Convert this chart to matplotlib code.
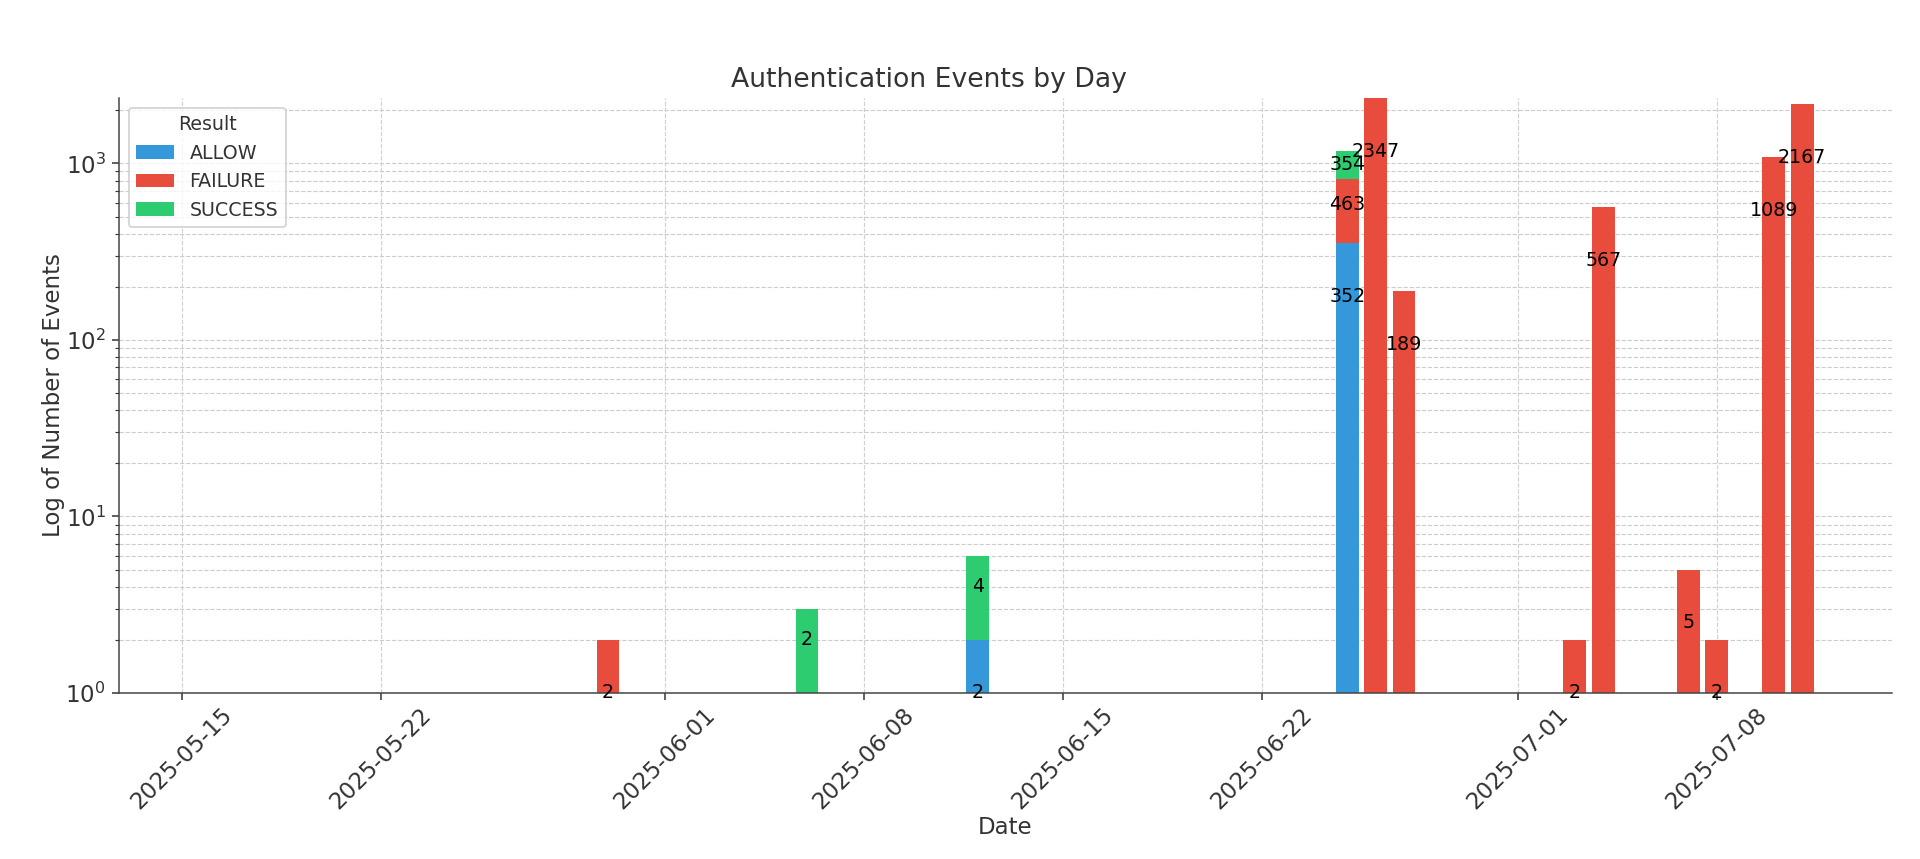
import numpy as np
import matplotlib
matplotlib.use("Agg")
import matplotlib.pyplot as plt
import matplotlib.dates as mdates
from datetime import datetime, timedelta

# ---- data -------------------------------------------------------------------
DATES = ["2025-05-30", "2025-06-06", "2025-06-12", "2025-06-25", "2025-06-26", "2025-06-27",
         "2025-07-03", "2025-07-04", "2025-07-07", "2025-07-08", "2025-07-10", "2025-07-11"]
ALLOW = [0, 0, 2, 352, 0, 0, 0, 0, 0, 0, 0, 0]
FAILURE = [2, 1, 0, 463, 2347, 189, 2, 567, 5, 2, 1089, 2167]
SUCCESS = [0, 2, 4, 354, 0, 0, 0, 0, 0, 0, 0, 0]
TICKS = ["2025-05-15", "2025-05-22", "2025-06-01", "2025-06-08",
         "2025-06-15", "2025-06-22", "2025-07-01", "2025-07-08"]
SERIES = [("ALLOW", ALLOW, "#3498db"), ("FAILURE", FAILURE, "#e74c3c"), ("SUCCESS", SUCCESS, "#2ecc71")]

TXT = "#333333"
plt.rcParams.update({"font.family": "DejaVu Sans", "text.color": TXT, "axes.labelcolor": TXT,
                     "xtick.color": TXT, "ytick.color": TXT, "axes.edgecolor": "#444444"})

DPI = 1920 / 14
fig, ax = plt.subplots(figsize=(14, 859 / DPI), dpi=DPI)
fig.subplots_adjust(left=119 / 1920, right=1892 / 1920, top=1 - 98 / 859, bottom=1 - 693 / 859)

x = mdates.date2num([datetime.strptime(d, "%Y-%m-%d") for d in DATES])
bottom = np.zeros(len(x))
for name, vals, col in SERIES:
    v = np.array(vals, float)
    ax.bar(x, v, width=0.8, bottom=bottom, color=col, linewidth=0, label=name)
    for xi, b, h in zip(x, bottom, v):
        if h > 1:
            ax.text(xi, b + h / 2, f"{int(h)}", ha="center", va="center", fontsize=10, color="black")
    bottom += v

ax.set_yscale("log")
ax.set_ylim(1, 2347)
x0 = datetime(2025, 5, 15)
ax.set_xlim(mdates.date2num(x0 - timedelta(days=2.2)), mdates.date2num(x0 + timedelta(days=60.16)))
ax.set_xticks(mdates.date2num([datetime.strptime(d, "%Y-%m-%d") for d in TICKS]))
ax.xaxis.set_major_formatter(mdates.DateFormatter("%Y-%m-%d"))
plt.setp(ax.get_xticklabels(), rotation=45)
ax.tick_params(labelsize=12)
ax.tick_params(axis="x", pad=2)

ax.grid(axis="x", which="major", ls="--", lw=0.6, color="#d0d0d0")
ax.grid(axis="y", which="both", ls="--", lw=0.6, color="#cccccc")
ax.set_axisbelow(True)
for s in ("top", "right"):
    ax.spines[s].set_visible(False)

ax.set_title("Authentication Events by Day", fontsize=14, x=0.457, color=TXT)
ax.set_xlabel("Date", fontsize=12, labelpad=1)
ax.set_ylabel("Log of Number of Events", fontsize=12, labelpad=0)
ax.legend(title="Result", loc="upper left", fontsize=10, title_fontsize=10)

fig.savefig("out.png", dpi=DPI)
